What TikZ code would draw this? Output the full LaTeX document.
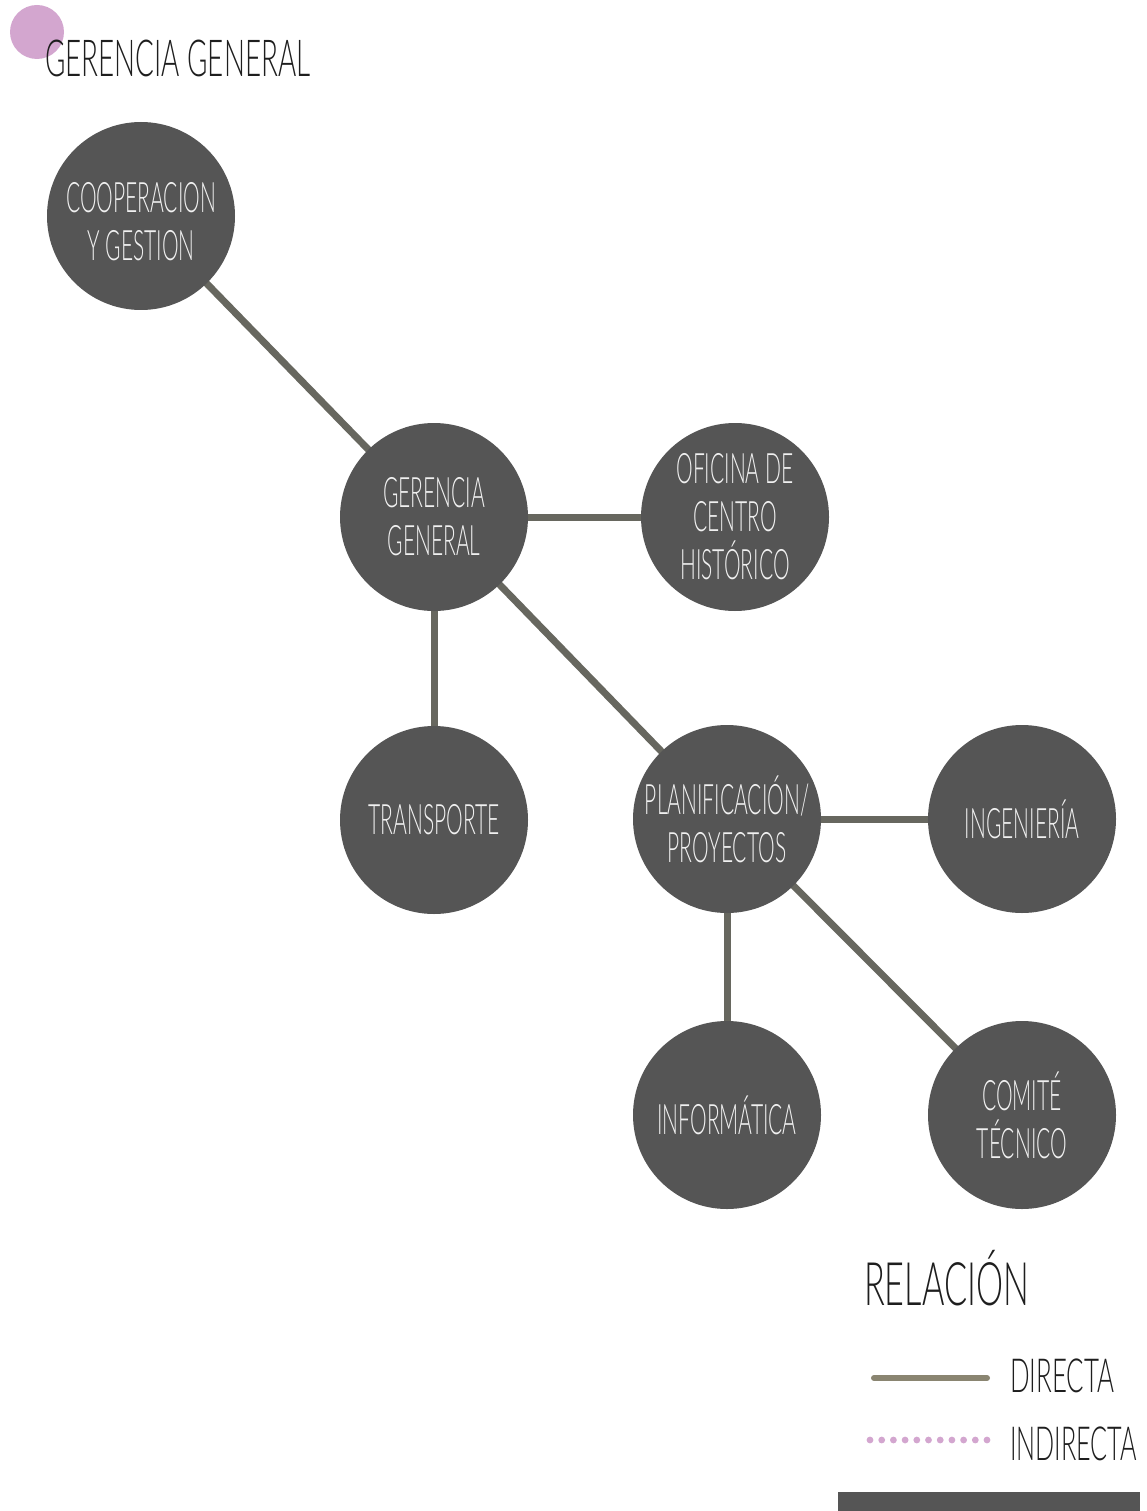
\documentclass[tikz,border=0pt]{standalone}
\usepackage{graphicx}
\usepackage{fontspec}
\setmainfont{Lato}[UprightFont=* Light, FakeStretch=0.5]
\usetikzlibrary{backgrounds}
\definecolor{disc}{HTML}{555555}
\definecolor{link}{HTML}{67675F}
\definecolor{khaki}{HTML}{8A8571}
\definecolor{orchid}{HTML}{D3A6CF}
\definecolor{ink}{HTML}{1E1E1E}
\tikzset{
  unit/.style={circle, fill=disc, minimum size=188pt, inner sep=0pt,
    text=white!94!black, align=center, font=\fontsize{42}{48}\selectfont},
  rel/.style={draw=link, line width=7pt},
  label/.style={anchor=base west, inner sep=0pt, text=ink},
}
\begin{document}
\begin{tikzpicture}[x=1pt,y=-1pt]
\useasboundingbox (0,0) rectangle (1146,1511);
% heading
\fill[orchid] (37,32) circle (27);
\node[label, font=\fontsize{51}{60}\selectfont] (title) at (45,77) {\scalebox{1.09}[1]{GERENCIA GENERAL}};
% units
\node[unit] (coop) at (141,216) {\raisebox{-11pt}[\height][\depth]{\begin{tabular}{@{}c@{}}COOPERACION\\Y GESTION\end{tabular}}};
\node[unit] (gg) at (434,517) {GERENCIA\\GENERAL};
\node[unit] (ofi) at (735,517) {OFICINA DE\\CENTRO\\HISTÓRICO};
\node[unit] (tra) at (434,820) {TRANSPORTE};
\node[unit] (pla) at (727,819) {PLANIFICACIÓN/\\PROYECTOS};
\node[unit] (ing) at (1022,819) {INGENIERÍA};
\node[unit] (inf) at (727,1115) {INFORMÁTICA};
\node[unit] (com) at (1022,1115) {COMITÉ\\TÉCNICO};
% direct relations
\begin{scope}[on background layer]
\draw[rel] (coop.center) -- (gg.center);
\draw[rel] (gg.center) -- (ofi.center);
\draw[rel] (gg.center) -- (tra.center);
\draw[rel] (gg.center) -- (pla.center);
\draw[rel] (pla.center) -- (ing.center);
\draw[rel] (pla.center) -- (inf.center);
\draw[rel] (pla.center) -- (com.center);
\end{scope}
% legend
\node[label, font=\fontsize{60}{70}\selectfont] (leg) at (864,1305) {\scalebox{1.14}[1]{RELACIÓN}};
\coordinate (d1) at (874,1378);
\coordinate (d2) at (987,1378);
\draw[khaki, line width=6pt, line cap=round] (d1) -- (d2);
\node[label, font=\fontsize{47}{56}\selectfont] (dir) at (1010,1392) {\scalebox{1.1}[1]{DIRECTA}};
\foreach \i in {0,...,10}
  \fill[orchid] (870+\i*11.7,1440) circle (3.4);
\node[label, font=\fontsize{47}{56}\selectfont] (ind) at (1010,1460) {\scalebox{1.07}[1]{INDIRECTA}};
\fill[disc] (838,1492) rectangle (1140,1511);
\end{tikzpicture}
\end{document}
